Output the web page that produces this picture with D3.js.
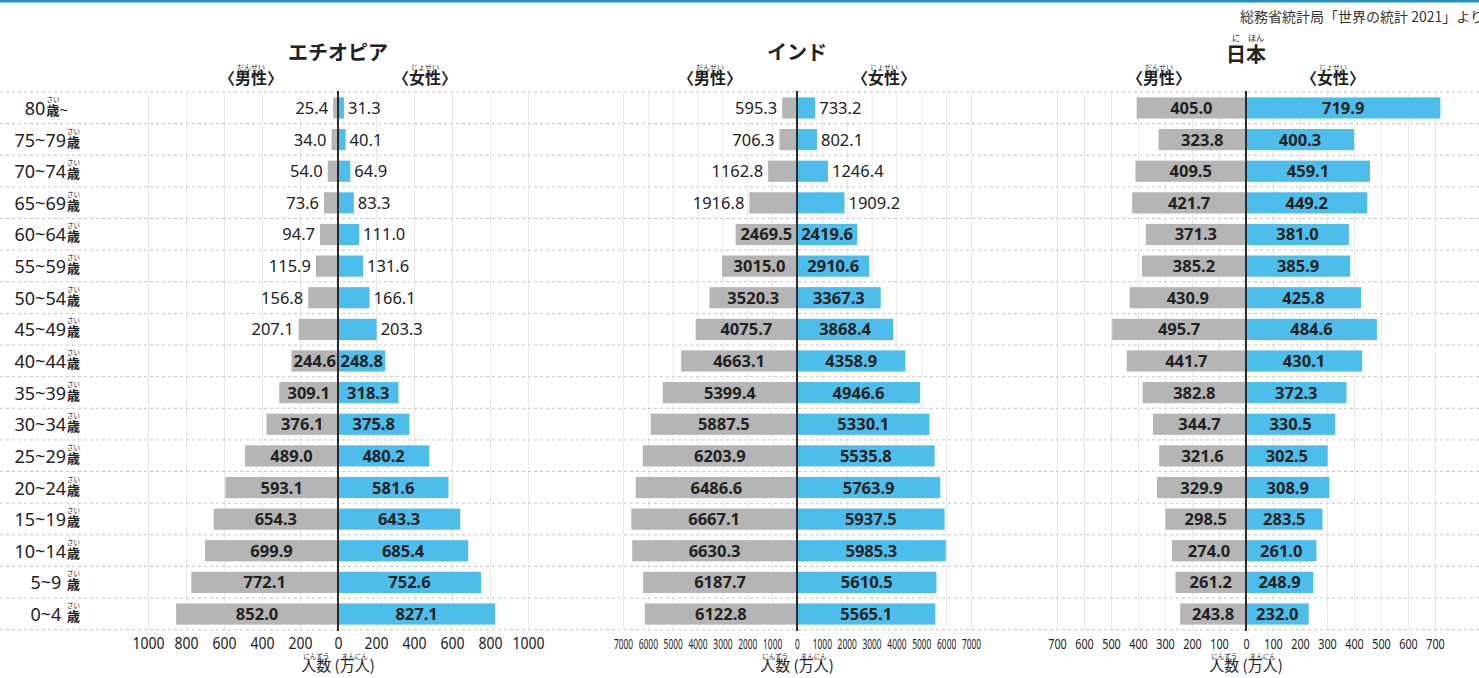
<!DOCTYPE html>
<meta charset="utf-8">
<style type="text/css">
html, body { margin: 0; background: #fff; }
text { font-family: "Noto Sans", "Noto Sans CJK JP", sans-serif; fill: #222; }
.jp { font-family: "Noto Sans CJK JP", sans-serif; }
.grid line { stroke: #e8e8e8; stroke-width: 1; }
.grid path { stroke-width: 0; }
.row-line { stroke: #c6c6c6; stroke-dasharray: 3,3; stroke-width: 1; }
.male { fill: #b5b5b5; }
.female { fill: #4dbeeb; }
.center-line { stroke: #2a2a2a; stroke-width: 2; }
</style>
<body></body>
<script src="https://d3js.org/d3.v7.min.js"></script>
<script>

// age groups, top to bottom
var ages = ["80歳~", "75~79歳", "70~74歳", "65~69歳", "60~64歳", "55~59歳", "50~54歳", "45~49歳",
            "40~44歳", "35~39歳", "30~34歳", "25~29歳", "20~24歳", "15~19歳", "10~14歳", "5~9 歳", "0~4 歳"];

// population (万人)
var ethiopiaMale   = [25.4, 34.0, 54.0, 73.6, 94.7, 115.9, 156.8, 207.1, 244.6, 309.1, 376.1, 489.0, 593.1, 654.3, 699.9, 772.1, 852.0];
var ethiopiaFemale = [31.3, 40.1, 64.9, 83.3, 111.0, 131.6, 166.1, 203.3, 248.8, 318.3, 375.8, 480.2, 581.6, 643.3, 685.4, 752.6, 827.1];
var indiaMale   = [595.3, 706.3, 1162.8, 1916.8, 2469.5, 3015.0, 3520.3, 4075.7, 4663.1, 5399.4, 5887.5, 6203.9, 6486.6, 6667.1, 6630.3, 6187.7, 6122.8];
var indiaFemale = [733.2, 802.1, 1246.4, 1909.2, 2419.6, 2910.6, 3367.3, 3868.4, 4358.9, 4946.6, 5330.1, 5535.8, 5763.9, 5937.5, 5985.3, 5610.5, 5565.1];
var japanMale   = [405.0, 323.8, 409.5, 421.7, 371.3, 385.2, 430.9, 495.7, 441.7, 382.8, 344.7, 321.6, 329.9, 298.5, 274.0, 261.2, 243.8];
var japanFemale = [719.9, 400.3, 459.1, 449.2, 381.0, 385.9, 425.8, 484.6, 430.1, 372.3, 330.5, 302.5, 308.9, 283.5, 261.0, 248.9, 232.0];

// tick labels for each side
var ethiopiaTicks = [0, 200, 400, 600, 800, 1000];
var indiaTicks = [0, 1000, 2000, 3000, 4000, 5000, 6000, 7000];
var japanTicks = [0, 100, 200, 300, 400, 500, 600, 700];

var width = 1479, height = 678;
var plotTop = 92, plotBottom = 630;

var panels = [
  { name: "エチオピア", male: ethiopiaMale, female: ethiopiaFemale, ticks: ethiopiaTicks,
    cx: 338, half: 190, tickFont: 16, charW: 8, titleY: 60 },
  { name: "インド", male: indiaMale, female: indiaFemale, ticks: indiaTicks,
    cx: 797, half: 174, tickFont: 14, charW: 4.8, titleY: 60 },
  { name: "日本", ruby: ["に", "ほん"], male: japanMale, female: japanFemale, ticks: japanTicks,
    cx: 1246, half: 189, tickFont: 15, charW: 6.2, titleY: 62 }
];

var svg = d3.select("body").append("svg")
    .attr("width", width)
    .attr("height", height);

// top rule
svg.append("rect")
    .attr("x", 0).attr("y", 0)
    .attr("width", width).attr("height", 2.5)
    .attr("fill", "#2290c4");

// source
svg.append("text")
    .attr("class", "jp")
    .attr("x", 1484).attr("y", 22)
    .attr("text-anchor", "end")
    .style("font-size", "14px")
    .style("fill", "#333")
    .text("総務省統計局「世界の統計 2021」より");

var y = d3.scaleBand()
    .domain(ages)
    .range([plotTop, plotBottom])
    .paddingInner(0.33)
    .paddingOuter(0.17);

var step = y.step();

// small ruby text centred over chars i0..i1 of a text node
function ruby(node, i0, i1, str, baseline, size) {
  var a = node.getExtentOfChar(i0), b = node.getExtentOfChar(i1);
  svg.append("text")
      .attr("class", "jp")
      .attr("x", (a.x + b.x + b.width) / 2)
      .attr("y", baseline)
      .attr("text-anchor", "middle")
      .style("font-size", size + "px")
      .text(str);
}

// vertical grid lines
panels.forEach(function(p) {
  var max = d3.max(p.ticks);
  p.xL = d3.scaleLinear().domain([0, max]).range([p.cx, p.cx - p.half]);
  p.xR = d3.scaleLinear().domain([0, max]).range([p.cx, p.cx + p.half]);

  [p.xL, p.xR].forEach(function(sc) {
    svg.append("g")
        .attr("class", "grid")
        .attr("transform", "translate(0," + plotBottom + ")")
        .call(d3.axisBottom(sc).tickValues(p.ticks).tickSize(-(plotBottom - plotTop)).tickFormat(""));
  });
});

// dashed row separators
svg.append("g").selectAll("line")
    .data(d3.range(ages.length + 1))
    .join("line")
    .attr("class", "row-line")
    .attr("x1", 0).attr("x2", width)
    .attr("y1", function(i) { return plotTop + i * step; })
    .attr("y2", function(i) { return plotTop + i * step; });

// age labels
ages.forEach(function(a) {
  var parts = a.split("歳");
  var base = y(a) + y.bandwidth() / 2 + 7;
  var t = svg.append("text")
      .attr("x", parts[1] ? 68 : 80)
      .attr("y", base)
      .attr("text-anchor", "end")
      .style("font-size", "18px");
  t.append("tspan").text(parts[0]);
  t.append("tspan").attr("class", "jp").attr("dx", 1)
      .style("font-size", "13px").style("font-weight", "bold").text("歳");
  if (parts[1]) t.append("tspan").style("font-size", "15px").text(parts[1]);
  var k = parts[0].length;
  ruby(t.node(), k, k, "さい", base - 13, 6.5);
});

panels.forEach(function(p) {
  // title
  var title = svg.append("text")
      .attr("class", "jp")
      .attr("x", p.cx).attr("y", p.titleY)
      .attr("text-anchor", "middle")
      .style("font-size", "20px")
      .style("font-weight", "bold")
      .text(p.name);
  if (p.ruby) {
    ruby(title.node(), 0, 0, p.ruby[0], p.titleY - 21, 8);
    ruby(title.node(), 1, 1, p.ruby[1], p.titleY - 21, 8);
  }

  // sex headers
  [["〈男性〉", "だんせい", -87], ["〈女性〉", "じょせい", 87]].forEach(function(h) {
    var t = svg.append("text")
        .attr("class", "jp")
        .attr("x", p.cx + h[2]).attr("y", 84)
        .attr("text-anchor", "middle")
        .style("font-size", "16px")
        .style("font-weight", "bold")
        .text(h[0]);
    ruby(t.node(), 1, 2, h[1], 70, 7);
  });

  // bars
  var g = svg.append("g");
  g.selectAll("rect.male")
      .data(p.male)
      .join("rect")
      .attr("class", "male")
      .attr("x", function(d) { return p.xL(d); })
      .attr("y", function(d, i) { return y(ages[i]); })
      .attr("width", function(d) { return p.cx - p.xL(d); })
      .attr("height", y.bandwidth());

  g.selectAll("rect.female")
      .data(p.female)
      .join("rect")
      .attr("class", "female")
      .attr("x", p.cx)
      .attr("y", function(d, i) { return y(ages[i]); })
      .attr("width", function(d) { return p.xR(d) - p.cx; })
      .attr("height", y.bandwidth());

  // value labels: bold inside when they fit, plain outside otherwise
  function label(vals, sc, side) {
    vals.forEach(function(d, i) {
      var x0 = sc(d), w = Math.abs(x0 - p.cx);
      var t = g.append("text")
          .attr("x", (x0 + p.cx) / 2)
          .attr("y", y(ages[i]) + y.bandwidth() / 2 + 6)
          .attr("text-anchor", "middle")
          .style("font-size", "16.5px")
          .style("font-weight", "bold")
          .text(d.toFixed(1));
      if (t.node().getComputedTextLength() > w + 2) {
        t.style("font-weight", "normal")
            .attr("x", side < 0 ? x0 - 5 : x0 + 4)
            .attr("text-anchor", side < 0 ? "end" : "start");
      }
    });
  }
  label(p.male, p.xL, -1);
  label(p.female, p.xR, 1);

  // centre axis
  svg.append("line")
      .attr("class", "center-line")
      .attr("x1", p.cx).attr("x2", p.cx)
      .attr("y1", plotTop - 1).attr("y2", plotBottom + 1);

  // tick labels
  [p.xL, p.xR].forEach(function(sc, s) {
    var ax = svg.append("g")
        .attr("transform", "translate(0," + (plotBottom + 4) + ")")
        .call(d3.axisBottom(sc).tickValues(s === 0 ? p.ticks : p.ticks.slice(1)).tickSize(0).tickFormat(d3.format("d")));
    ax.select(".domain").remove();
    ax.selectAll("text")
        .attr("y", 0).attr("dy", "15px")
        .style("font-size", p.tickFont + "px")
        .style("font-family", "\"Noto Sans\", sans-serif")
        .style("fill", "#222")
        .attr("textLength", function(d) { return String(d).length * p.charW; })
        .attr("lengthAdjust", "spacingAndGlyphs");
  });

  // axis title
  var at = svg.append("text")
      .attr("class", "jp")
      .attr("x", p.cx).attr("y", 671)
      .attr("text-anchor", "middle")
      .style("font-size", "15px")
      .text("人数 (万人)");
  ruby(at.node(), 0, 1, "にんずう", 659, 6.5);
  ruby(at.node(), 4, 5, "まんにん", 659, 6.5);
});

</script>
